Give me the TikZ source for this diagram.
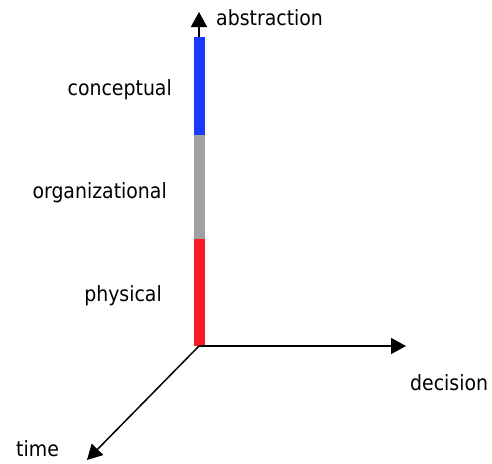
\documentclass[tikz,border=0pt]{standalone}
\usepackage{fontspec}
\setmainfont{DejaVu Sans Condensed}
\usetikzlibrary{arrows.meta}
\definecolor{levblue}{RGB}{26,58,255}
\definecolor{levgrey}{RGB}{160,160,160}
\definecolor{levred}{RGB}{250,26,36}
\begin{document}
\begin{tikzpicture}[x=1pt,y=-1pt,
  axis/.style={line width=1.5pt,-{Triangle[length=15pt,width=16pt]}},
  level/.style={line width=11pt},
  lbl/.style={font=\fontsize{21}{24}\selectfont,inner sep=0pt}]
\useasboundingbox (0,0) rectangle (492,463);
% origin and axis ends
\coordinate (O) at (199,346);
\coordinate (Up) at (199,12);
\coordinate (Right) at (406,346);
\coordinate (Down) at (87,460);
\coordinate (Ltop) at (199,37);
\coordinate (L1) at (199,135);
\coordinate (L2) at (199,239);
% level bars
\draw[level,levblue] (Ltop) -- (L1);
\draw[level,levgrey] (L1) -- (L2);
\draw[level,levred] (L2) -- (O);
% axes
\draw[axis] (Ltop) -- (Up);
\draw[axis] (O) -- (Right);
\draw[axis] (O) -- (Down);
% labels
\node[lbl,anchor=west] (abs) at (216,18) {abstraction};
\node[lbl,anchor=east] (con) at (172,90) {conceptual};
\node[lbl,anchor=east] (org) at (167,193) {organizational};
\node[lbl,anchor=east] (phy) at (162,296) {physical};
\node[lbl,anchor=west] (dec) at (410,383) {decision};
\node[lbl,anchor=west] (tim) at (16,449) {time};
\end{tikzpicture}
\end{document}
